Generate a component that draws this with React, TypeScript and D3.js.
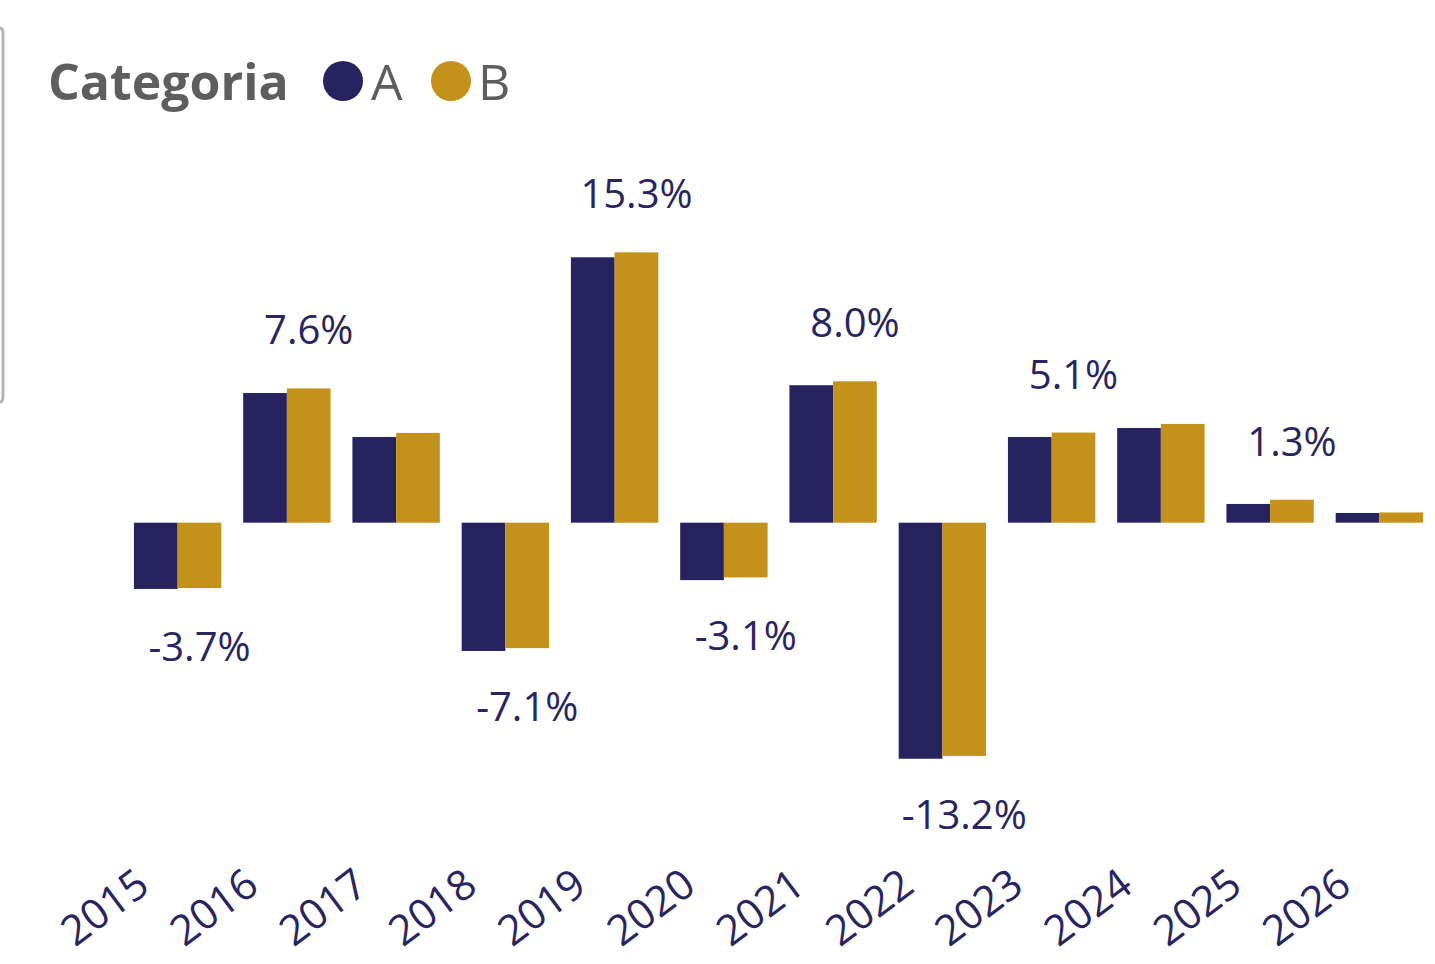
import React from "react";
import * as d3 from "d3";

const categories = ["2015","2016","2017","2018","2019","2020","2021","2022","2023","2024","2025","2026"];
const seriesA = [-3.75, 7.34, 4.85, -7.26, 15.02, -3.25, 7.78, -13.36, 4.85, 5.36, 1.06, 0.55];
const seriesB = [-3.7, 7.6, 5.08, -7.1, 15.3, -3.1, 8.0, -13.2, 5.1, 5.59, 1.3, 0.58];
const labelShown = [true, true, false, true, true, true, true, true, true, false, true, false];
const seriesNames = ["A", "B"];
const legendTitle = "Categoria";

const W = 1435;
const H = 964;
const colorA = "#27235F";
const colorB = "#C4911A";
const textNavy = "#29265F";
const font = "'Open Sans', 'Noto Sans', sans-serif";

export default function App() {
  const x = d3.scaleBand<string>().domain(categories).range([123, 1434]).paddingInner(0.2).paddingOuter(0.1);
  const sub = d3.scaleBand<string>().domain(seriesNames).range([0, x.bandwidth()]);
  const y = d3.scaleLinear().domain([-16, 17]).range([805.4, 222.3]);
  const y0 = y(0);
  const fmt = (v: number) => `${v.toFixed(1)}%`;

  return (
    <svg width={W} height={H} style={{ position: "absolute", left: 0, top: 0, background: "#fff" }}>
      <path d="M -10 28 L 0 28 Q 3 28 3 34 L 3 396 Q 3 402 0 402 L -10 402" fill="none" stroke="#b5b5b5" strokeWidth={3} />
      {/* legend */}
      <text x={48} y={100} fontFamily={font} fontWeight={700} fontSize={50} fill="#5E5E5E">{legendTitle}</text>
      <circle cx={343} cy={81} r={20} fill={colorA} />
      <text x={371} y={100} fontFamily={font} fontSize={50} fill="#605E5C">{seriesNames[0]}</text>
      <circle cx={451} cy={81} r={20} fill={colorB} />
      <text x={478} y={100} fontFamily={font} fontSize={50} fill="#605E5C">{seriesNames[1]}</text>

      {categories.map((c, i) => {
        const bx = x(c)!;
        const a = seriesA[i];
        const b = seriesB[i];
        const bxB = bx + sub("B")!;
        const cxB = bxB + sub.bandwidth() / 2;
        const yb = y(b);
        const labelY = b >= 0 ? yb - 44 : yb + 44 + 29;
        return (
          <g key={c}>
            <rect x={bx + sub("A")!} width={sub.bandwidth()} y={Math.min(y(a), y0)} height={Math.abs(y(a) - y0)} fill={colorA} />
            <rect x={bxB} width={sub.bandwidth()} y={Math.min(yb, y0)} height={Math.abs(yb - y0)} fill={colorB} />
            {labelShown[i] && (
              <text x={cxB} y={labelY} textAnchor="middle" fontFamily={font} fontSize={40} fill={textNavy}>{fmt(b)}</text>
            )}
            <text
              transform={`translate(${bx + x.bandwidth() / 2 - 26},${890}) rotate(-37)`}
              textAnchor="end"
              fontFamily={font}
              fontSize={42}
              fill={textNavy}
            >{c}</text>
          </g>
        );
      })}
    </svg>
  );
}
